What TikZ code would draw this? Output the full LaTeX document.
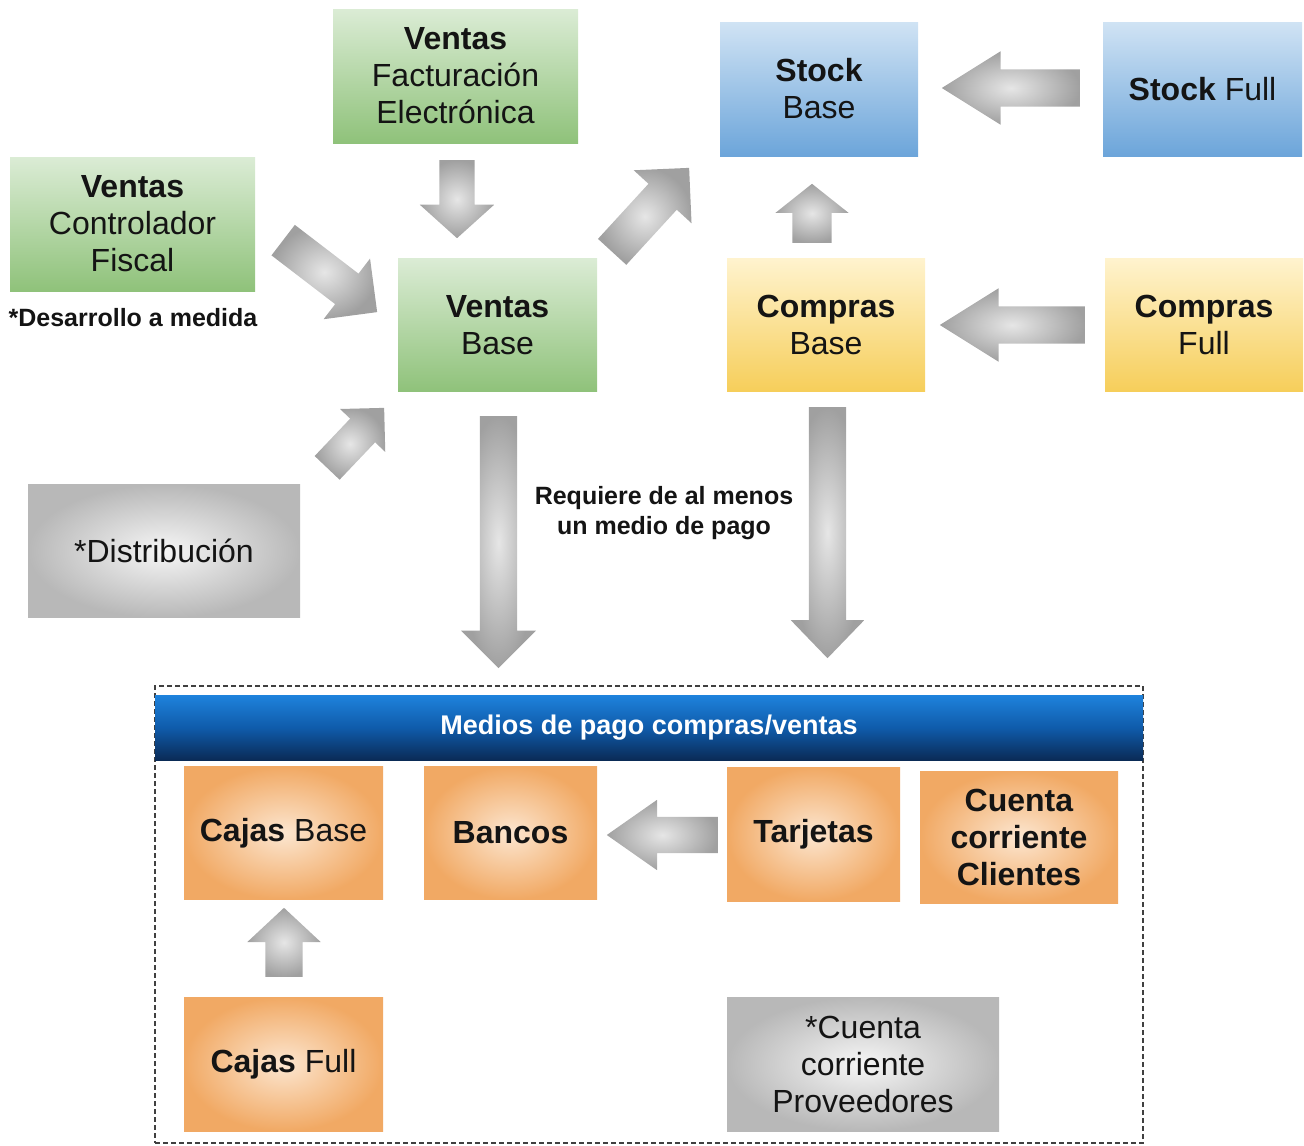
\documentclass[tikz,border=0pt]{standalone}
\usepackage{fontspec}
\setmainfont{Liberation Sans}
\usetikzlibrary{shapes.arrows,calc}
\definecolor{gtop}{HTML}{DBECD5}
\definecolor{gbot}{HTML}{8FC27A}
\definecolor{btop}{HTML}{D0E3F4}
\definecolor{bbot}{HTML}{6CA5DA}
\definecolor{ytop}{HTML}{FFF3CE}
\definecolor{ybot}{HTML}{F6CE5A}
\definecolor{oin}{HTML}{FCE6D0}
\definecolor{oout}{HTML}{F1A964}
\definecolor{grin}{HTML}{F6F6F6}
\definecolor{grout}{HTML}{B8B8B8}
\definecolor{htop}{HTML}{1E82DC}
\definecolor{hmid}{HTML}{0F5BAA}
\definecolor{hbot}{HTML}{0A2A55}
\definecolor{ain}{HTML}{E6E6E6}
\definecolor{aout}{HTML}{A0A0A0}
\newcommand\blockarr[5]{%
  \path let \p1=(#1), \p2=(#2), \n1={atan2(\y2-\y1,\x2-\x1)}, \n2={veclen(\x2-\x1,\y2-\y1)} in
    node[barrow, anchor=tail, minimum height=\n2, inner ysep={(#3)/2},
         single arrow head extend={(#4-#3)/2}, single arrow tip angle=#5,
         rotate=\n1] at (#1) {};%
}
\begin{document}
\begin{tikzpicture}[x=1pt,y=-1pt,
  every node/.style={font=\fontsize{32}{37}\selectfont, align=center, inner sep=0pt, text=black!92},
  greenbox/.style={top color=gtop, bottom color=gbot},
  bluebox/.style={top color=btop, bottom color=bbot},
  yellowbox/.style={top color=ytop, bottom color=ybot},
  orangebox/.style={inner color=oin, outer color=oout},
  greybox/.style={inner color=grin, outer color=grout},
  smalltxt/.style={font=\bfseries\fontsize{25}{30}\selectfont},
  barrow/.style={single arrow, inner xsep=0pt, minimum width=0pt, single arrow head indent=0pt,
    inner color=ain, outer color=aout, draw=none},
]
\useasboundingbox (0,0) rectangle (1304,1146);

% top nodes
\node[greenbox, minimum width=245, minimum height=134] (fact) at (455.5,76) {\textbf{Ventas}\\Facturación\\Electrónica};
\node[greenbox, minimum width=245, minimum height=134] (ctrl) at (132.5,224) {\textbf{Ventas}\\Controlador\\Fiscal};
\node[smalltxt] (desa) at (133,318) {*Desarrollo a medida};
\node[greenbox, minimum width=199, minimum height=133] (vbase) at (497.5,325) {\textbf{Ventas}\\Base};
\node[bluebox, minimum width=198, minimum height=134] (sbase) at (819,89) {\textbf{Stock}\\Base};
\node[bluebox, minimum width=199, minimum height=134] (sfull) at (1202.5,89) {\textbf{Stock} Full};
\node[yellowbox, minimum width=198, minimum height=133] (cbase) at (826,325) {\textbf{Compras}\\Base};
\node[yellowbox, minimum width=198, minimum height=133] (cfull) at (1204,325) {\textbf{Compras}\\Full};
\node[greybox, minimum width=272, minimum height=133] (dist) at (164,551) {*Distribución};
\node[smalltxt] (req) at (664,513) {Requiere de al menos\\un medio de pago};

% payment frame
\node[draw=black!75, dash pattern=on 5pt off 3pt, line width=1.5pt, minimum width=988, minimum height=457] (frame) at (649,914.5) {};
\node[top color=htop, bottom color=hbot, middle color=hmid, minimum width=988, minimum height=65, text=white,
      font=\bfseries\fontsize{27}{32}\selectfont] (head) at (649,728) {Medios de pago compras/ventas};
\node[orangebox, minimum width=199, minimum height=133] (cajab) at (283.5,833) {\textbf{Cajas} Base};
\node[orangebox, minimum width=173, minimum height=133] (bancos) at (510.5,833) {\textbf{Bancos}};
\node[orangebox, minimum width=173, minimum height=134] (tarj) at (813.5,834) {\textbf{Tarjetas}};
\node[orangebox, minimum width=198, minimum height=132] (cccli) at (1019,837) {\textbf{Cuenta}\\\textbf{corriente}\\\textbf{Clientes}};
\node[orangebox, minimum width=199, minimum height=134] (cajaf) at (283.5,1064) {\textbf{Cajas} Full};
\node[greybox, minimum width=272, minimum height=134] (ccprov) at (863,1064) {*Cuenta\\corriente\\Proveedores};

% arrow end points
\coordinate (a1s) at (457,160);
\coordinate (a1e) at (457,238);
\coordinate (a2s) at (283,240);
\coordinate (a2e) at (377,312);
\coordinate (a3s) at (612,252);
\coordinate (a3e) at (689,168);
\coordinate (a4s) at (1080,88);
\coordinate (a4e) at (942,88);
\coordinate (a5s) at (812,243);
\coordinate (a5e) at (812,184);
\coordinate (a6s) at (1085,325);
\coordinate (a6e) at (940,325);
\coordinate (a7s) at (327,468);
\coordinate (a7e) at (384,408);
\coordinate (a8s) at (498.5,416);
\coordinate (a8e) at (498.5,668);
\coordinate (a9s) at (827.5,407);
\coordinate (a9e) at (827.5,658);
\coordinate (a10s) at (718,835);
\coordinate (a10e) at (607,835);
\coordinate (a11s) at (284,977);
\coordinate (a11e) at (284,908);

\blockarr{a1s}{a1e}{35}{74}{96}
\blockarr{a2s}{a2e}{38}{76}{90}
\blockarr{a3s}{a3e}{38}{78}{90}
\blockarr{a4s}{a4e}{37}{73}{64}
\blockarr{a5s}{a5e}{39}{73}{103}
\blockarr{a6s}{a6e}{37}{73}{64}
\blockarr{a7s}{a7e}{34}{62}{90}
\blockarr{a8s}{a8e}{37}{75}{90}
\blockarr{a9s}{a9e}{37}{73}{88}
\blockarr{a10s}{a10e}{36}{70}{70}
\blockarr{a11s}{a11e}{37}{73}{94}
\end{tikzpicture}
\end{document}
